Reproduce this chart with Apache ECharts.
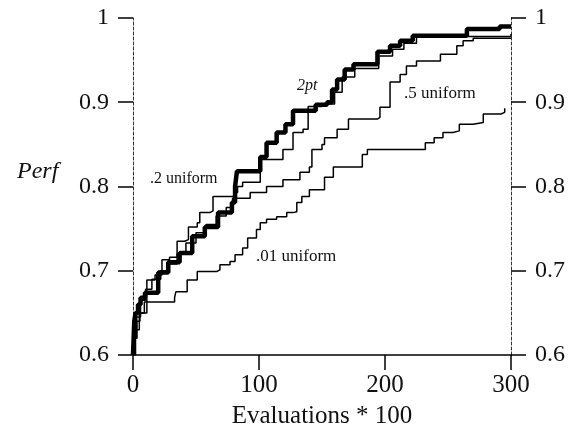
<!DOCTYPE html>
<html>
<head>
<meta charset="utf-8">
<script src="https://cdn.jsdelivr.net/npm/echarts@6/dist/echarts.min.js"></script>
<style>
  html, body { margin: 0; padding: 0; background: #fff; }
  #perf_chart { width: 583px; height: 445px; }
</style>
</head>
<body>
<div id="perf_chart"></div>
<script>
// 2pt（粗线）
var pt2X = [0, 0.5, 1, 2, 4, 6, 9.5, 20, 28, 37, 47, 57, 67.5, 78.5, 81, 82.5, 101, 106, 114, 121, 127, 145, 154, 158, 162, 168, 175, 194, 204, 212, 222, 265, 291, 300];
var pt2Y = [0.6, 0.62, 0.64, 0.65, 0.66, 0.668, 0.674, 0.698, 0.71, 0.721, 0.741, 0.752, 0.769, 0.781, 0.8, 0.818, 0.835, 0.852, 0.864, 0.874, 0.89, 0.897, 0.9, 0.915, 0.927, 0.939, 0.945, 0.96, 0.967, 0.973, 0.979, 0.987, 0.99, 0.99];
// .2 uniform
var u2X = [0, 1, 3, 5.5, 11, 17.5, 23, 29, 35, 41, 44, 51, 53, 61, 63.5, 81, 83, 87, 101, 117, 119, 127, 135, 139, 150, 160, 166, 176, 195, 206, 215, 225, 300];
var u2Y = [0.6, 0.62, 0.64, 0.65, 0.689, 0.695, 0.713, 0.716, 0.735, 0.737, 0.752, 0.757, 0.769, 0.771, 0.788, 0.793, 0.8, 0.805, 0.832, 0.832, 0.844, 0.864, 0.868, 0.895, 0.898, 0.912, 0.93, 0.94, 0.955, 0.963, 0.97, 0.978, 0.981];
// .5 uniform
var u5X = [0, 1, 3, 6, 10, 15, 22, 28, 35, 42, 50, 58, 66, 74, 79, 93, 106, 119, 132.5, 140, 142, 150, 152, 162, 171, 194, 196, 204, 212, 217, 225, 244, 257, 262, 270, 300];
var u5Y = [0.6, 0.62, 0.645, 0.665, 0.678, 0.69, 0.7, 0.708, 0.72, 0.733, 0.745, 0.755, 0.765, 0.775, 0.786, 0.793, 0.8, 0.808, 0.817, 0.823, 0.844, 0.85, 0.858, 0.868, 0.88, 0.882, 0.894, 0.924, 0.933, 0.943, 0.949, 0.957, 0.967, 0.973, 0.976, 0.976];
// .01 uniform
var u01X = [0, 2, 5, 9, 33, 34, 43, 51, 66.4, 69, 77, 81, 87, 91, 98, 101, 106, 114, 122, 127, 130, 134, 140, 152, 159, 182, 186, 232, 239, 246, 254, 259, 270, 278, 292, 295];
var u01Y = [0.6, 0.63, 0.65, 0.663, 0.668, 0.675, 0.689, 0.699, 0.701, 0.707, 0.711, 0.719, 0.727, 0.739, 0.749, 0.757, 0.761, 0.764, 0.769, 0.770, 0.781, 0.788, 0.796, 0.811, 0.823, 0.838, 0.844, 0.852, 0.858, 0.864, 0.866, 0.874, 0.876, 0.886, 0.888, 0.893];

var xTicks = [0, 100, 200, 300];
var yTicks = [0.6, 0.7, 0.8, 0.9, 1];

var SERIF = '"Liberation Serif", "DejaVu Serif", serif';

function pairs(xs, ys) {
    var out = [];
    for (var i = 0; i < xs.length; i++) {
        out.push([xs[i], ys[i]]);
    }
    return out;
}

function stepLine(name, xs, ys, width) {
    return {
        name: name,
        type: 'line',
        step: 'end',
        symbol: 'none',
        data: pairs(xs, ys),
        lineStyle: { color: '#000', width: width },
        animation: false
    };
}

function yAxisSide(side) {
    return {
        type: 'value',
        position: side,
        min: yTicks[0],
        max: yTicks[yTicks.length - 1],
        interval: 0.1,
        splitLine: { show: false },
        axisLine: { show: true, lineStyle: { color: '#333', width: 1, type: [3, 2] } },
        axisTick: { show: true, length: 15, lineStyle: { color: '#000', width: 1.5 } },
        axisLabel: {
            margin: 24,
            color: '#111',
            fontFamily: SERIF,
            fontSize: 24,
            formatter: function (v) { return v === 1 ? '1' : v.toFixed(1); }
        }
    };
}

function note(text, left, top, size, italic) {
    return {
        type: 'text',
        left: left,
        top: top,
        style: {
            text: text,
            fill: '#111',
            font: (italic ? 'italic ' : '') + size + 'px ' + SERIF
        }
    };
}

var myChart = echarts.init(document.getElementById('perf_chart'));

var option = {
    backgroundColor: '#fff',
    animation: false,
    grid: { left: 133, right: 72, top: 18, bottom: 90 },
    xAxis: {
        type: 'value',
        min: xTicks[0],
        max: xTicks[xTicks.length - 1],
        interval: 100,
        name: 'Evaluations * 100',
        nameLocation: 'middle',
        nameGap: 49,
        nameTextStyle: { fontFamily: SERIF, fontSize: 25, color: '#111' },
        splitLine: { show: false },
        axisLine: { show: true, lineStyle: { color: '#000', width: 1.5 } },
        axisTick: { show: true, length: 15, lineStyle: { color: '#000', width: 1.5 } },
        axisLabel: { margin: 18, color: '#111', fontFamily: SERIF, fontSize: 25 }
    },
    yAxis: [yAxisSide('left'), yAxisSide('right')],
    series: [
        stepLine('2pt', pt2X, pt2Y, 4.5),
        stepLine('.2 uniform', u2X, u2Y, 1.5),
        stepLine('.5 uniform', u5X, u5Y, 1.5),
        stepLine('.01 uniform', u01X, u01Y, 1.5)
    ],
    graphic: [
        note('Perf', 17, 160, 24, true),
        note('.2 uniform', 150, 171, 16, false),
        note('2pt', 297, 78, 16, true),
        note('.5 uniform', 404, 85, 17, false),
        note('.01 uniform', 256, 248, 17, false)
    ]
};

myChart.setOption(option);
</script>
</body>
</html>
